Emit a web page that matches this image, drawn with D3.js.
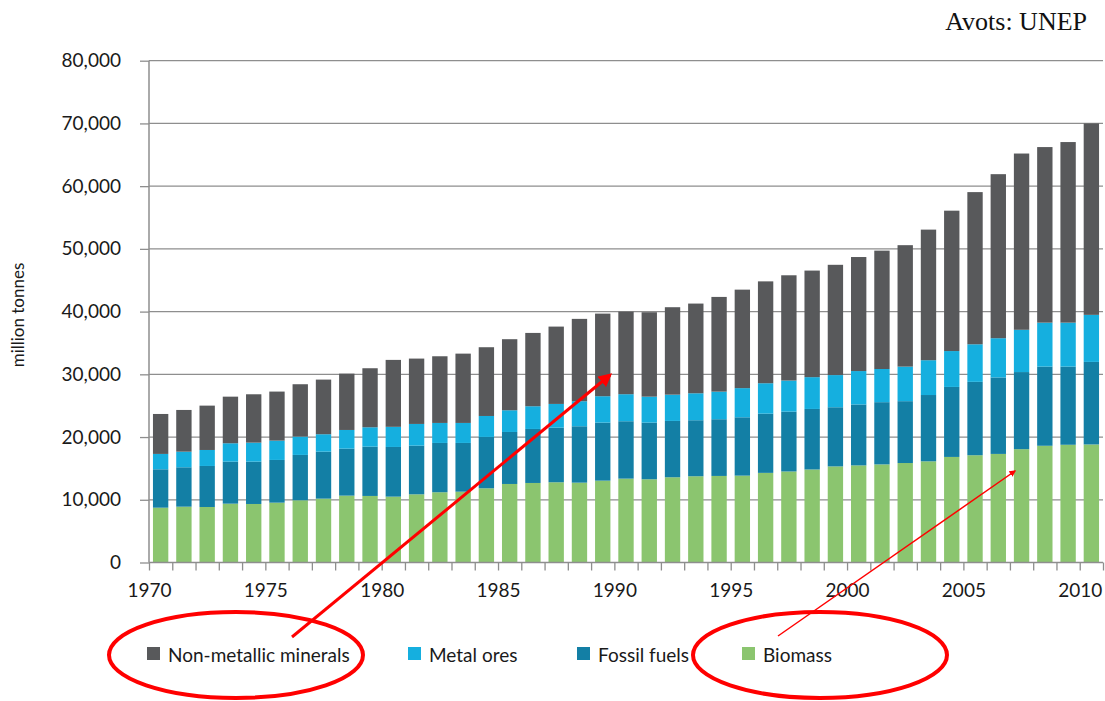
<!DOCTYPE html>
<html>
<head>
<meta charset="utf-8">
<script src="https://cdn.jsdelivr.net/npm/d3@7"></script>
<style>
body { margin: 0; background: #fff; }
svg text { font-family: Lato, "Open Sans", sans-serif; }
</style>
</head>
<body>
<div id="chart"></div>
<script>
var W = 1105,
	H = 701;

var years = d3.range(1970, 2011);
var seriesNames = ['Biomass', 'Fossil fuels', 'Metal ores', 'Non-metallic minerals'];
var legendNames = ['Non-metallic minerals', 'Metal ores', 'Fossil fuels', 'Biomass'];
var colors = {'Biomass': '#8bc56f', 'Fossil fuels': '#137fa5', 'Metal ores': '#15afdf', 'Non-metallic minerals': '#58595b'};

// million tonnes
var biomass = [8740, 8900, 8850, 9380, 9330, 9540, 9920, 10180, 10660, 10610,
	10500, 10870, 11200, 11290, 11830, 12520, 12680, 12790, 12730, 13050,
	13370, 13270, 13590, 13750, 13800, 13850, 14290, 14510, 14830, 15320,
	15480, 15640, 15860, 16130, 16830, 17100, 17310, 18070, 18610, 18770, 18820];
var fossil = [6120, 6280, 6540, 6700, 6750, 6810, 7230, 7490, 7490, 7860,
	7920, 7760, 7860, 7770, 8190, 8290, 8610, 8710, 8990, 9250,
	9150, 9030, 8980, 8930, 9040, 9300, 9440, 9540, 9650, 9430,
	9710, 9920, 9860, 10570, 11160, 11700, 12190, 12290, 12620, 12460, 13160];
var metal = [2450, 2490, 2550, 2930, 3030, 3080, 2920, 2780, 2980, 3090,
	3210, 3460, 3190, 3190, 3340, 3460, 3620, 3780, 3990, 4210,
	4310, 4140, 4190, 4300, 4400, 4650, 4850, 4960, 5070, 5130,
	5330, 5290, 5510, 5550, 5720, 5990, 6260, 6740, 7010, 7010, 7500];
var nonmet = [6370, 6650, 7070, 7430, 7710, 7820, 8350, 8710, 8980, 9410,
	10670, 10420, 10630, 11050, 10960, 11330, 11690, 12330, 13130, 13170,
	13170, 13460, 13940, 14300, 15100, 15700, 16240, 16780, 16990, 17580,
	18180, 18870, 19360, 20820, 22380, 24260, 26150, 28100, 27990, 28790, 30520];
var yTicks = [0, 10000, 20000, 30000, 40000, 50000, 60000, 70000, 80000];

var table = years.map(function(y, i) {
	return {year: y, 'Biomass': biomass[i], 'Fossil fuels': fossil[i],
		'Metal ores': metal[i], 'Non-metallic minerals': nonmet[i]};
});

var pLeft = 149, pRight = 1103, pTop = 60.7, pBottom = 562.5;

var svg = d3.select('#chart').append('svg')
	.attr('width', W)
	.attr('height', H)
	.attr('viewBox', '0 0 ' + W + ' ' + H);

var x = d3.scaleBand().domain(years).range([pLeft, pRight])
	.paddingInner(0.34).paddingOuter(0.17);
var xt = d3.scaleLinear().domain([1970, 2011]).range([pLeft, pRight]);
var y = d3.scaleLinear().domain([0, 80000]).range([pBottom, pTop]);

// gridlines
svg.append('g').selectAll('line')
	.data(yTicks.slice(1))
	.enter().append('line')
	.attr('x1', pLeft).attr('x2', pRight)
	.attr('y1', function(d) { return y(d); })
	.attr('y2', function(d) { return y(d); })
	.attr('stroke', '#8e8e8e').attr('stroke-width', 1.3);

// y axis
var yAxis = svg.append('g')
	.attr('transform', 'translate(' + pLeft + ',0)')
	.call(d3.axisLeft(y).tickValues(yTicks).tickSize(9).tickPadding(19)
		.tickFormat(d3.format(',')));
yAxis.selectAll('text').attr('font-size', 19).attr('fill', '#1a1a1a');

// bars
var stack = d3.stack().keys(seriesNames)(table);
svg.append('g').selectAll('g')
	.data(stack)
	.enter().append('g')
	.attr('fill', function(d) { return colors[d.key]; })
	.selectAll('rect')
	.data(function(d) { return d; })
	.enter().append('rect')
	.attr('x', function(d) { return x(d.data.year); })
	.attr('width', x.bandwidth())
	.attr('y', function(d) { return y(d[1]); })
	.attr('height', function(d) { return y(d[0]) - y(d[1]); });

// x axis
var xAxis = svg.append('g')
	.attr('transform', 'translate(0,' + pBottom + ')')
	.call(d3.axisBottom(xt).tickValues(d3.range(1970, 2012)).tickSize(8).tickPadding(13)
		.tickFormat(function(d) { return d % 5 === 0 && d <= 2010 ? d : ''; }));
xAxis.selectAll('text').attr('font-size', 19).attr('fill', '#1a1a1a');

[yAxis, xAxis].forEach(function(a) {
	a.selectAll('line').attr('stroke', '#8e8e8e').attr('stroke-width', 1.3);
	a.select('.domain').attr('stroke', '#8e8e8e').attr('stroke-width', 1.5);
});
yAxis.select('.domain').attr('d', 'M0,' + pTop + 'V' + pBottom);
xAxis.select('.domain').attr('d', 'M' + pLeft + ',0H' + pRight);

// y title
svg.append('text')
	.attr('transform', 'translate(24,315) rotate(-90)')
	.attr('text-anchor', 'middle')
	.attr('font-size', 17)
	.attr('fill', '#1a1a1a')
	.text('million tonnes');

// source
svg.append('text')
	.attr('x', 1087).attr('y', 30)
	.attr('text-anchor', 'end')
	.style('font-family', '"Liberation Serif", "Times New Roman", serif')
	.attr('font-size', 26)
	.attr('fill', '#111')
	.text('Avots: UNEP');

// legend
var legendX = [147, 408, 577, 742];
var legend = svg.append('g').selectAll('g')
	.data(legendNames)
	.enter().append('g')
	.attr('transform', function(d, i) { return 'translate(' + legendX[i] + ',647)'; });
legend.append('rect')
	.attr('width', 13).attr('height', 13)
	.attr('fill', function(d) { return colors[d]; });
legend.append('text')
	.attr('x', 21).attr('y', 15)
	.attr('font-size', 19)
	.attr('fill', '#1a1a1a')
	.text(function(d) { return d; });

// red annotations
var defs = svg.append('defs');
defs.append('marker')
	.attr('id', 'arrow')
	.attr('viewBox', '0 0 10 10')
	.attr('refX', 8).attr('refY', 5)
	.attr('markerWidth', 4.5).attr('markerHeight', 4.5)
	.attr('orient', 'auto')
	.append('path').attr('d', 'M0,0L10,5L0,10z').attr('fill', '#f00');

svg.append('ellipse')
	.attr('cx', 236).attr('cy', 655).attr('rx', 127).attr('ry', 43)
	.attr('fill', 'none').attr('stroke', '#f00').attr('stroke-width', 4);
svg.append('ellipse')
	.attr('cx', 820).attr('cy', 655).attr('rx', 127).attr('ry', 43)
	.attr('fill', 'none').attr('stroke', '#f00').attr('stroke-width', 4);
svg.append('line')
	.attr('x1', 292).attr('y1', 637).attr('x2', 610).attr('y2', 375)
	.attr('stroke', '#f00').attr('stroke-width', 3)
	.attr('marker-end', 'url(#arrow)');
svg.append('line')
	.attr('x1', 778).attr('y1', 636).attr('x2', 1015).attr('y2', 471)
	.attr('stroke', '#f00').attr('stroke-width', 1.5)
	.attr('marker-end', 'url(#arrow)');
</script>
</body>
</html>
